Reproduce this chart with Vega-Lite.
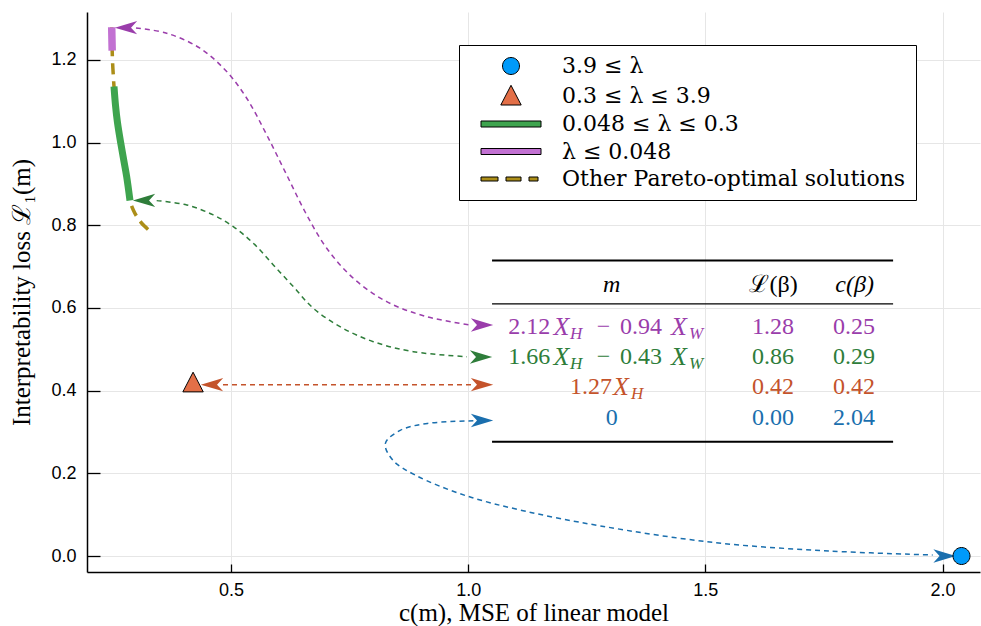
{
  "$schema": "https://vega.github.io/schema/vega-lite/v6.json",
  "width": 893,
  "height": 560,
  "autosize": "none",
  "padding": {"left": 87, "top": 12, "right": 1, "bottom": 54},
  "background": "white",
  "config": {
    "view": {"stroke": null},
    "axis": {
      "domainColor": "black",
      "domainWidth": 1.5,
      "tickColor": "black",
      "tickWidth": 1.3,
      "gridColor": "#e6e6e6",
      "gridWidth": 1,
      "labelFont": "Liberation Sans",
      "labelFontSize": 18,
      "labelColor": "black",
      "titleFont": "Liberation Serif",
      "titleFontSize": 25,
      "titleFontWeight": "normal",
      "titleColor": "black"
    }
  },
  "datasets": {
    "pareto": [
      {"x": 0.2485, "y": 1.279}, {"x": 0.249, "y": 1.25}, {"x": 0.2495, "y": 1.2226},
      {"x": 0.2505, "y": 1.19}, {"x": 0.252, "y": 1.16}, {"x": 0.2533, "y": 1.1355},
      {"x": 0.2565, "y": 1.09}, {"x": 0.2605, "y": 1.05}, {"x": 0.2674, "y": 1.0},
      {"x": 0.2735, "y": 0.96}, {"x": 0.28, "y": 0.918}, {"x": 0.287, "y": 0.86},
      {"x": 0.294, "y": 0.837}, {"x": 0.302, "y": 0.82}, {"x": 0.3117, "y": 0.805},
      {"x": 0.328, "y": 0.787}
    ],
    "green": [
      {"x": 0.2533, "y": 1.1355}, {"x": 0.2565, "y": 1.09}, {"x": 0.2605, "y": 1.05},
      {"x": 0.2674, "y": 1.0}, {"x": 0.2735, "y": 0.96}, {"x": 0.28, "y": 0.918},
      {"x": 0.287, "y": 0.86}
    ],
    "purple": [
      {"x": 0.2485, "y": 1.279}, {"x": 0.249, "y": 1.25}, {"x": 0.2495, "y": 1.2226}
    ],
    "curves": [
      {"curve": "purple", "i": 1, "x": 0.2997, "y": 1.2775},
      {"curve": "purple", "i": 2, "x": 0.3644, "y": 1.2647},
      {"curve": "purple", "i": 3, "x": 0.4346, "y": 1.2284},
      {"curve": "purple", "i": 4, "x": 0.4909, "y": 1.1718},
      {"curve": "purple", "i": 5, "x": 0.5331, "y": 1.1074},
      {"curve": "purple", "i": 6, "x": 0.5753, "y": 1.0186},
      {"curve": "purple", "i": 7, "x": 0.6174, "y": 0.9218},
      {"curve": "purple", "i": 8, "x": 0.6596, "y": 0.8251},
      {"curve": "purple", "i": 9, "x": 0.7018, "y": 0.7445},
      {"curve": "purple", "i": 10, "x": 0.7579, "y": 0.6719},
      {"curve": "purple", "i": 11, "x": 0.8283, "y": 0.6153},
      {"curve": "purple", "i": 12, "x": 0.9126, "y": 0.579},
      {"curve": "purple", "i": 13, "x": 1.0039, "y": 0.5589},
      {"curve": "green", "i": 1, "x": 0.3433, "y": 0.8597},
      {"curve": "green", "i": 2, "x": 0.4066, "y": 0.8493},
      {"curve": "green", "i": 3, "x": 0.4627, "y": 0.8251},
      {"curve": "green", "i": 4, "x": 0.5048, "y": 0.7968},
      {"curve": "green", "i": 5, "x": 0.547, "y": 0.7566},
      {"curve": "green", "i": 6, "x": 0.5892, "y": 0.7041},
      {"curve": "green", "i": 7, "x": 0.6314, "y": 0.6516},
      {"curve": "green", "i": 8, "x": 0.6735, "y": 0.5993},
      {"curve": "green", "i": 9, "x": 0.7298, "y": 0.5548},
      {"curve": "green", "i": 10, "x": 0.8, "y": 0.5185},
      {"curve": "green", "i": 11, "x": 0.8844, "y": 0.4943},
      {"curve": "green", "i": 12, "x": 0.9969, "y": 0.4822},
      {"curve": "orange", "i": 1, "x": 0.4831, "y": 0.4145},
      {"curve": "orange", "i": 2, "x": 1.0081, "y": 0.4145},
      {"curve": "blue", "i": 1, "x": 1.0109, "y": 0.3271},
      {"curve": "blue", "i": 2, "x": 0.9141, "y": 0.3206},
      {"curve": "blue", "i": 3, "x": 0.8576, "y": 0.3044},
      {"curve": "blue", "i": 4, "x": 0.8253, "y": 0.272},
      {"curve": "blue", "i": 5, "x": 0.8416, "y": 0.2313},
      {"curve": "blue", "i": 6, "x": 0.8898, "y": 0.1948},
      {"curve": "blue", "i": 7, "x": 0.9948, "y": 0.1461},
      {"curve": "blue", "i": 8, "x": 1.1159, "y": 0.1096},
      {"curve": "blue", "i": 9, "x": 1.2771, "y": 0.0731},
      {"curve": "blue", "i": 10, "x": 1.5192, "y": 0.0324},
      {"curve": "blue", "i": 11, "x": 1.7612, "y": 0.0121},
      {"curve": "blue", "i": 12, "x": 1.9792, "y": 0.0024}
    ],
    "heads": [
      {"curve": "purple", "dir": "left", "x": 0.2786, "y": 1.2782},
      {"curve": "purple", "dir": "right", "x": 1.0292, "y": 0.5589},
      {"curve": "green", "dir": "left", "x": 0.3166, "y": 0.8602},
      {"curve": "green", "dir": "right", "x": 1.0271, "y": 0.4815},
      {"curve": "orange", "dir": "left", "x": 0.4599, "y": 0.4145},
      {"curve": "orange", "dir": "right", "x": 1.0292, "y": 0.4145},
      {"curve": "blue", "dir": "right", "x": 1.0292, "y": 0.3279},
      {"curve": "blue", "dir": "right", "x": 2.0043, "y": 0.0}
    ],
    "points": [
      {"series": "3.9 ≤ λ", "x": 2.04, "y": 0.0},
      {"series": "0.3 ≤ λ ≤ 3.9", "x": 0.42, "y": 0.42}
    ],
    "rules": [
      {"kind": "thick", "x": 1.0503, "x2": 1.8958, "y": 0.7149},
      {"kind": "thin", "x": 1.0503, "x2": 1.8958, "y": 0.6097},
      {"kind": "thick", "x": 1.0503, "x2": 1.8958, "y": 0.2766}
    ],
    "table": [
      {"row": "header", "kind": "italc", "text": "m", "x": 1.3027, "y": 0.6557},
      {"row": "header", "kind": "numc", "text": "ℒ(β)", "x": 1.6438, "y": 0.6557},
      {"row": "header", "kind": "italc", "text": "c(β)", "x": 1.8146, "y": 0.6557},
      {"row": "purple", "kind": "num", "text": "2.12", "x": 1.0847, "y": 0.5548},
      {"row": "purple", "kind": "ital", "text": "X", "x": 1.1799, "y": 0.5548},
      {"row": "purple", "kind": "sub", "text": "H", "x": 1.2148, "y": 0.5548},
      {"row": "purple", "kind": "num", "text": "−", "x": 1.271, "y": 0.5548},
      {"row": "purple", "kind": "num", "text": "0.94", "x": 1.3202, "y": 0.5548},
      {"row": "purple", "kind": "ital", "text": "X", "x": 1.4277, "y": 0.5548},
      {"row": "purple", "kind": "sub", "text": "W", "x": 1.4656, "y": 0.5548},
      {"row": "purple", "kind": "numc", "text": "1.28", "x": 1.6427, "y": 0.5548},
      {"row": "purple", "kind": "numc", "text": "0.25", "x": 1.8135, "y": 0.5548},
      {"row": "green", "kind": "num", "text": "1.66", "x": 1.0847, "y": 0.4808},
      {"row": "green", "kind": "ital", "text": "X", "x": 1.1799, "y": 0.4808},
      {"row": "green", "kind": "sub", "text": "H", "x": 1.2148, "y": 0.4808},
      {"row": "green", "kind": "num", "text": "−", "x": 1.271, "y": 0.4808},
      {"row": "green", "kind": "num", "text": "0.43", "x": 1.3202, "y": 0.4808},
      {"row": "green", "kind": "ital", "text": "X", "x": 1.4277, "y": 0.4808},
      {"row": "green", "kind": "sub", "text": "W", "x": 1.4656, "y": 0.4808},
      {"row": "green", "kind": "numc", "text": "0.86", "x": 1.6427, "y": 0.4808},
      {"row": "green", "kind": "numc", "text": "0.29", "x": 1.8135, "y": 0.4808},
      {"row": "orange", "kind": "num", "text": "1.27", "x": 1.2147, "y": 0.4096},
      {"row": "orange", "kind": "ital", "text": "X", "x": 1.3054, "y": 0.4096},
      {"row": "orange", "kind": "sub", "text": "H", "x": 1.3433, "y": 0.4096},
      {"row": "orange", "kind": "numc", "text": "0.42", "x": 1.6427, "y": 0.4096},
      {"row": "orange", "kind": "numc", "text": "0.42", "x": 1.8135, "y": 0.4096},
      {"row": "blue", "kind": "numc", "text": "0", "x": 1.3027, "y": 0.3332},
      {"row": "blue", "kind": "numc", "text": "0.00", "x": 1.6427, "y": 0.3332},
      {"row": "blue", "kind": "numc", "text": "2.04", "x": 1.8135, "y": 0.3332}
    ]
  },
  "encoding": {
    "x": {
      "type": "quantitative",
      "scale": {"domain": [0.1964, 2.079], "nice": false, "zero": false},
      "axis": {
        "title": "c(m), MSE of linear model",
        "values": [0.5, 1.0, 1.5, 2.0],
        "format": ".1f",
        "tickSize": -8,
        "labelPadding": 17,
        "titlePadding": 1
      }
    },
    "y": {
      "type": "quantitative",
      "scale": {"domain": [-0.0387, 1.316], "nice": false, "zero": false},
      "axis": {
        "title": "Interpretability loss ℒ₁(m)",
        "values": [0, 0.2, 0.4, 0.6, 0.8, 1.0, 1.2],
        "format": ".1f",
        "tickSize": -13,
        "labelPadding": 24,
        "titlePadding": 16
      }
    }
  },
  "layer": [
    {
      "data": {"name": "pareto"},
      "mark": {"type": "line", "color": "#AC8E18", "strokeWidth": 3.5, "strokeDash": [11, 7], "interpolate": "catmull-rom", "strokeCap": "butt"},
      "encoding": {"x": {"field": "x"}, "y": {"field": "y"}}
    },
    {
      "data": {"name": "green"},
      "mark": {"type": "line", "color": "#3EA44E", "strokeWidth": 7, "interpolate": "catmull-rom", "strokeCap": "butt"},
      "encoding": {"x": {"field": "x"}, "y": {"field": "y"}}
    },
    {
      "data": {"name": "purple"},
      "mark": {"type": "line", "color": "#C271D2", "strokeWidth": 7.5, "interpolate": "linear", "strokeCap": "butt"},
      "encoding": {"x": {"field": "x"}, "y": {"field": "y"}}
    },
    {
      "data": {"name": "curves"},
      "mark": {"type": "line", "strokeWidth": 1.5, "strokeDash": [5, 4], "interpolate": "catmull-rom"},
      "encoding": {
        "x": {"field": "x"},
        "y": {"field": "y"},
        "order": {"field": "i", "type": "quantitative"},
        "detail": {"field": "curve"},
        "color": {
          "field": "curve", "type": "nominal", "legend": null,
          "scale": {"domain": ["purple", "green", "orange", "blue"], "range": ["#9A3DAB", "#2E7D3A", "#C4532B", "#1A6FAE"]}
        }
      }
    },
    {
      "data": {"name": "heads"},
      "mark": {"type": "point", "filled": true, "opacity": 1, "size": 500, "strokeWidth": 0},
      "encoding": {
        "x": {"field": "x"},
        "y": {"field": "y"},
        "color": {
          "field": "curve", "type": "nominal", "legend": null,
          "scale": {"domain": ["purple", "green", "orange", "blue"], "range": ["#9A3DAB", "#2E7D3A", "#C4532B", "#1A6FAE"]}
        },
        "shape": {
          "field": "dir", "type": "nominal", "legend": null,
          "scale": {"domain": ["left", "right"], "range": ["M-1,0 L1,-0.6 L0.45,0 L1,0.6 Z", "M1,0 L-1,-0.6 L-0.45,0 L-1,0.6 Z"]}
        }
      }
    },
    {
      "data": {"name": "rules"},
      "transform": [{"filter": "datum.kind === 'thick'"}],
      "mark": {"type": "rule", "color": "black", "strokeWidth": 2},
      "encoding": {"x": {"field": "x"}, "x2": {"field": "x2"}, "y": {"field": "y"}}
    },
    {
      "data": {"name": "rules"},
      "transform": [{"filter": "datum.kind === 'thin'"}],
      "mark": {"type": "rule", "color": "black", "strokeWidth": 1.2},
      "encoding": {"x": {"field": "x"}, "x2": {"field": "x2"}, "y": {"field": "y"}}
    },
    {
      "data": {"name": "table"},
      "transform": [{"filter": "datum.kind === 'num'"}],
      "mark": {"type": "text", "font": "Liberation Serif", "fontSize": 24, "align": "left", "baseline": "middle"},
      "encoding": {
        "x": {"field": "x"}, "y": {"field": "y"}, "text": {"field": "text"},
        "color": {"field": "row", "type": "nominal", "legend": null,
          "scale": {"domain": ["header", "purple", "green", "orange", "blue"], "range": ["#000000", "#9A3DAB", "#2E7D3A", "#C4532B", "#1A6FAE"]}}
      }
    },
    {
      "data": {"name": "table"},
      "transform": [{"filter": "datum.kind === 'numc'"}],
      "mark": {"type": "text", "font": "Liberation Serif", "fontSize": 24, "align": "center", "baseline": "middle"},
      "encoding": {
        "x": {"field": "x"}, "y": {"field": "y"}, "text": {"field": "text"},
        "color": {"field": "row", "type": "nominal", "legend": null,
          "scale": {"domain": ["header", "purple", "green", "orange", "blue"], "range": ["#000000", "#9A3DAB", "#2E7D3A", "#C4532B", "#1A6FAE"]}}
      }
    },
    {
      "data": {"name": "table"},
      "transform": [{"filter": "datum.kind === 'ital'"}],
      "mark": {"type": "text", "font": "Liberation Serif", "fontSize": 26, "fontStyle": "italic", "align": "left", "baseline": "middle"},
      "encoding": {
        "x": {"field": "x"}, "y": {"field": "y"}, "text": {"field": "text"},
        "color": {"field": "row", "type": "nominal", "legend": null,
          "scale": {"domain": ["header", "purple", "green", "orange", "blue"], "range": ["#000000", "#9A3DAB", "#2E7D3A", "#C4532B", "#1A6FAE"]}}
      }
    },
    {
      "data": {"name": "table"},
      "transform": [{"filter": "datum.kind === 'italc'"}],
      "mark": {"type": "text", "font": "Liberation Serif", "fontSize": 24, "fontStyle": "italic", "align": "center", "baseline": "middle"},
      "encoding": {
        "x": {"field": "x"}, "y": {"field": "y"}, "text": {"field": "text"},
        "color": {"field": "row", "type": "nominal", "legend": null,
          "scale": {"domain": ["header", "purple", "green", "orange", "blue"], "range": ["#000000", "#9A3DAB", "#2E7D3A", "#C4532B", "#1A6FAE"]}}
      }
    },
    {
      "data": {"name": "table"},
      "transform": [{"filter": "datum.kind === 'sub'"}],
      "mark": {"type": "text", "font": "Liberation Serif", "fontSize": 17, "fontStyle": "italic", "align": "left", "baseline": "middle", "dy": 7},
      "encoding": {
        "x": {"field": "x"}, "y": {"field": "y"}, "text": {"field": "text"},
        "color": {"field": "row", "type": "nominal", "legend": null,
          "scale": {"domain": ["header", "purple", "green", "orange", "blue"], "range": ["#000000", "#9A3DAB", "#2E7D3A", "#C4532B", "#1A6FAE"]}}
      }
    },
    {
      "data": {"name": "points"},
      "mark": {"type": "point", "filled": true, "opacity": 1, "size": 400, "stroke": "black", "strokeWidth": 1},
      "encoding": {
        "x": {"field": "x"},
        "y": {"field": "y"},
        "color": {
          "field": "series", "type": "nominal",
          "scale": {
            "domain": ["3.9 ≤ λ", "0.3 ≤ λ ≤ 3.9", "0.048 ≤ λ ≤ 0.3", "λ ≤ 0.048", "Other Pareto-optimal solutions"],
            "range": ["#009AFA", "#E36F47", "#3EA44E", "#C271D2", "#AC8E18"]
          },
          "legend": {
            "title": null,
            "orient": "none",
            "legendX": 372,
            "legendY": 33,
            "padding": 10,
            "strokeColor": "black",
            "fillColor": "white",
            "symbolSize": 400,
            "symbolStrokeWidth": 1,
            "symbolOffset": 31,
            "labelFont": "DejaVu Serif",
            "labelFontSize": 22,
            "labelColor": "black",
            "labelOffset": 40,
            "labelLimit": 600,
            "rowPadding": 5.5,
            "symbolOpacity": 1,
            "encode": {
              "legend": {"update": {"strokeWidth": {"value": 1.5}}},
              "symbols": {
                "update": {
                  "stroke": [
                    {"test": "datum.value === '3.9 ≤ λ' || datum.value === '0.3 ≤ λ ≤ 3.9'", "value": "black"},
                    {"value": "transparent"}
                  ],
                  "strokeWidth": [
                    {"test": "datum.value === '3.9 ≤ λ' || datum.value === '0.3 ≤ λ ≤ 3.9'", "value": 1},
                    {"value": 0}
                  ]
                }
              }
            }
          }
        },
        "shape": {
          "field": "series", "type": "nominal",
          "scale": {
            "domain": ["3.9 ≤ λ", "0.3 ≤ λ ≤ 3.9", "0.048 ≤ λ ≤ 0.3", "λ ≤ 0.048", "Other Pareto-optimal solutions"],
            "range": [
              "M-0.85,0 A0.85,0.85 0 1,0 0.85,0 A0.85,0.85 0 1,0 -0.85,0 Z",
              "M0,-1.02 L1.02,0.95 L-1.02,0.95 Z",
              "M-3,-0.3 L3,-0.3 L3,0.3 L-3,0.3 Z",
              "M-3,-0.3 L3,-0.3 L3,0.3 L-3,0.3 Z",
              "M-3,-0.2 L-1.3,-0.2 L-1.3,0.2 L-3,0.2 Z M-0.5,-0.2 L1,-0.2 L1,0.2 L-0.5,0.2 Z M1.8,-0.2 L2.7,-0.2 L2.7,0.2 L1.8,0.2 Z"
            ]
          },
          "legend": {
            "title": null,
            "orient": "none",
            "legendX": 372,
            "legendY": 33,
            "padding": 10,
            "strokeColor": "black",
            "fillColor": "white",
            "symbolSize": 400,
            "symbolStrokeWidth": 1,
            "symbolOffset": 31,
            "labelFont": "DejaVu Serif",
            "labelFontSize": 22,
            "labelColor": "black",
            "labelOffset": 40,
            "labelLimit": 600,
            "rowPadding": 5.5,
            "symbolOpacity": 1,
            "encode": {
              "legend": {"update": {"strokeWidth": {"value": 1.5}}},
              "symbols": {
                "update": {
                  "stroke": [
                    {"test": "datum.value === '3.9 ≤ λ' || datum.value === '0.3 ≤ λ ≤ 3.9'", "value": "black"},
                    {"value": "transparent"}
                  ],
                  "strokeWidth": [
                    {"test": "datum.value === '3.9 ≤ λ' || datum.value === '0.3 ≤ λ ≤ 3.9'", "value": 1},
                    {"value": 0}
                  ]
                }
              }
            }
          }
        }
      }
    }
  ],
  "resolve": {"scale": {"color": "independent", "shape": "independent"}}
}
